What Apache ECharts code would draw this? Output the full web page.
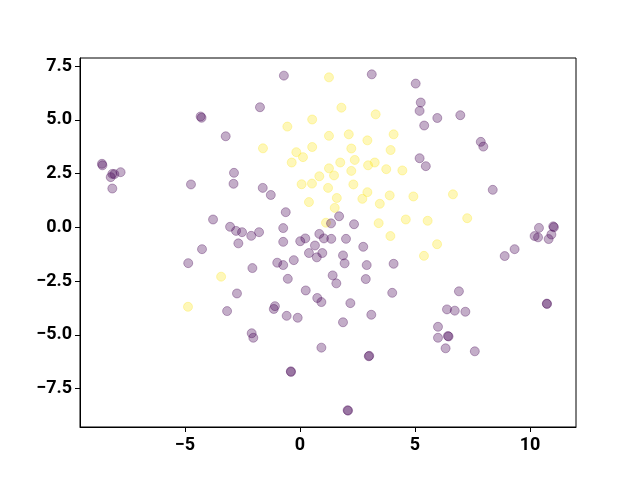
<!DOCTYPE html>
<html>
<head>
<meta charset="utf-8">
<script src="https://cdn.jsdelivr.net/npm/echarts@6/dist/echarts.min.js"></script>
<style>
  html, body { margin: 0; padding: 0; background: #fff; }
</style>
</head>
<body>
<div id="myChart" style="width: 640px; height: 480px;"></div>
<script>
// tick positions on each axis
var xTicks = [-5, 0, 5, 10]
var yTicks = [-7.5, -5, -2.5, 0, 2.5, 5, 7.5]

// class 1 (yellow) points, [x, y]
var yellowPts = [
  [-4.87, -3.69], [-3.43, -2.29], [1.26, 6.98], [0.53, 5.02], [-0.55, 4.69],
  [1.26, 4.26], [-1.61, 3.68], [0.53, 3.74], [-0.16, 3.50], [0.13, 3.27],
  [-0.36, 3.02], [1.26, 2.75], [0.84, 2.38], [0.07, 2.01], [0.52, 2.04],
  [1.22, 1.84], [1.80, 5.57], [3.29, 5.26], [2.12, 4.33], [2.93, 4.05],
  [4.07, 4.33], [2.23, 3.67], [3.94, 3.60], [2.38, 3.14], [1.75, 3.02],
  [2.96, 2.89], [3.25, 3.02], [3.75, 2.71], [4.45, 2.65], [2.23, 2.63],
  [1.48, 2.42], [2.32, 2.00], [2.93, 1.64], [1.60, 1.37], [2.71, 1.33],
  [3.90, 1.49], [4.93, 1.44], [3.47, 1.10], [6.65, 1.54], [1.51, 0.91],
  [3.42, 0.20], [4.60, 0.37], [5.55, 0.31], [3.93, -0.40], [5.96, -0.78],
  [5.39, -1.32], [7.27, 0.43], [0.39, 1.18], [1.13, 0.22]
]

// class 0 (purple) points, [x, y]
var purplePts = [
  [-8.61, 2.96], [-8.59, 2.89], [-8.16, 2.49], [-8.23, 2.34], [-8.07, 2.48],
  [-7.80, 2.57], [-8.16, 1.81], [-4.32, 5.16], [-4.28, 5.10], [-4.74, 2.00],
  [-4.26, -1.01], [-4.86, -1.66], [-0.70, 7.06], [-1.74, 5.59], [-3.23, 4.24],
  [-2.87, 2.54], [-2.89, 2.03], [-1.62, 1.84], [-1.27, 1.51], [-0.62, 0.71],
  [-3.78, 0.37], [-3.04, 0.03], [-2.78, -0.16], [-2.52, -0.22], [-1.78, -0.22],
  [-2.12, -0.39], [-0.73, -0.03], [-2.68, -0.74], [-0.73, -0.67], [0.01, -0.64],
  [0.23, -0.51], [0.84, -0.30], [1.04, -0.51], [0.65, -0.84], [0.39, -1.19],
  [0.97, -1.19], [0.73, -1.39], [-0.99, -1.64], [-0.73, -1.75], [-0.27, -1.52],
  [-2.07, -1.89], [-0.53, -2.39], [0.25, -2.93], [-2.74, -3.07], [0.75, -3.28],
  [0.93, -3.47], [-1.09, -3.66], [-1.14, -3.79], [-3.17, -3.89], [-0.58, -4.11],
  [-0.10, -4.20], [-2.10, -4.92], [-2.03, -5.13], [0.93, -5.59], [-0.40, -6.69],
  [-0.39, -6.72], [1.70, 0.52], [1.35, 0.19], [2.35, 0.15], [1.36, -0.53],
  [2.00, -0.53], [2.75, -0.90], [1.87, -1.30], [1.94, -1.67], [2.90, -1.75],
  [4.07, -1.69], [1.42, -2.23], [1.58, -2.60], [2.86, -2.40], [4.01, -3.04],
  [2.19, -3.52], [1.87, -4.41], [3.10, -4.06], [2.99, -5.99], [3.01, -5.97],
  [2.07, -8.50], [2.09, -8.52], [3.12, 7.12], [5.03, 6.69], [5.25, 5.81],
  [5.20, 5.42], [5.97, 5.09], [5.40, 4.74], [5.20, 3.22], [5.47, 2.85],
  [6.97, 5.22], [7.86, 3.98], [7.97, 3.76], [8.38, 1.75], [10.39, -0.02],
  [11.01, 0.05], [11.04, 0.01], [10.20, -0.40], [10.35, -0.46], [10.93, -0.33],
  [10.81, -0.54], [9.33, -1.01], [8.90, -1.33], [6.91, -2.97], [10.73, -3.54],
  [10.74, -3.56], [6.39, -3.81], [6.73, -3.87], [7.19, -3.92], [6.00, -4.62],
  [6.43, -5.05], [6.46, -5.07], [6.00, -5.13], [6.33, -5.62], [7.60, -5.76]
]

var myChart = echarts.init(document.getElementById('myChart'))

function fmt (v, digits) {
  var s = digits ? v.toFixed(digits) : String(v)
  return s.replace('-', '\u2212')
}

var labelStyle = {
  color: '#000',
  fontSize: 18,
  fontWeight: 'bold',
  fontFamily: 'Roboto'
}

myChart.setOption({
  animation: false,
  grid: {
    left: 80,
    right: 64,
    top: 58,
    bottom: 53,
    show: true,
    borderColor: '#000',
    borderWidth: 1
  },
  xAxis: {
    type: 'value',
    min: -9.565,
    max: 12.0,
    splitLine: { show: false },
    axisLine: { show: true, onZero: false, lineStyle: { color: '#000' } },
    axisTick: { show: true, length: 5, customValues: xTicks, lineStyle: { color: '#000' } },
    axisLabel: Object.assign({
      customValues: xTicks,
      margin: 9,
      formatter: function (v) { return fmt(v) }
    }, labelStyle)
  },
  yAxis: {
    type: 'value',
    min: -9.28,
    max: 7.88,
    splitLine: { show: false },
    axisLine: { show: true, onZero: false, lineStyle: { color: '#000' } },
    axisTick: { show: true, length: 5, customValues: yTicks, lineStyle: { color: '#000' } },
    axisLabel: Object.assign({
      customValues: yTicks,
      margin: 8,
      formatter: function (v) { return fmt(v, 1) }
    }, labelStyle)
  },
  series: [
    {
      type: 'scatter',
      data: yellowPts,
      symbolSize: 9,
      itemStyle: {
        color: 'rgba(253, 231, 37, 0.4)',
        borderColor: 'rgba(253, 231, 37, 0.4)',
        borderWidth: 1
      }
    },
    {
      type: 'scatter',
      data: purplePts,
      symbolSize: 9,
      itemStyle: {
        color: 'rgba(68, 1, 84, 0.4)',
        borderColor: 'rgba(68, 1, 84, 0.4)',
        borderWidth: 1
      }
    }
  ]
})
</script>
</body>
</html>
